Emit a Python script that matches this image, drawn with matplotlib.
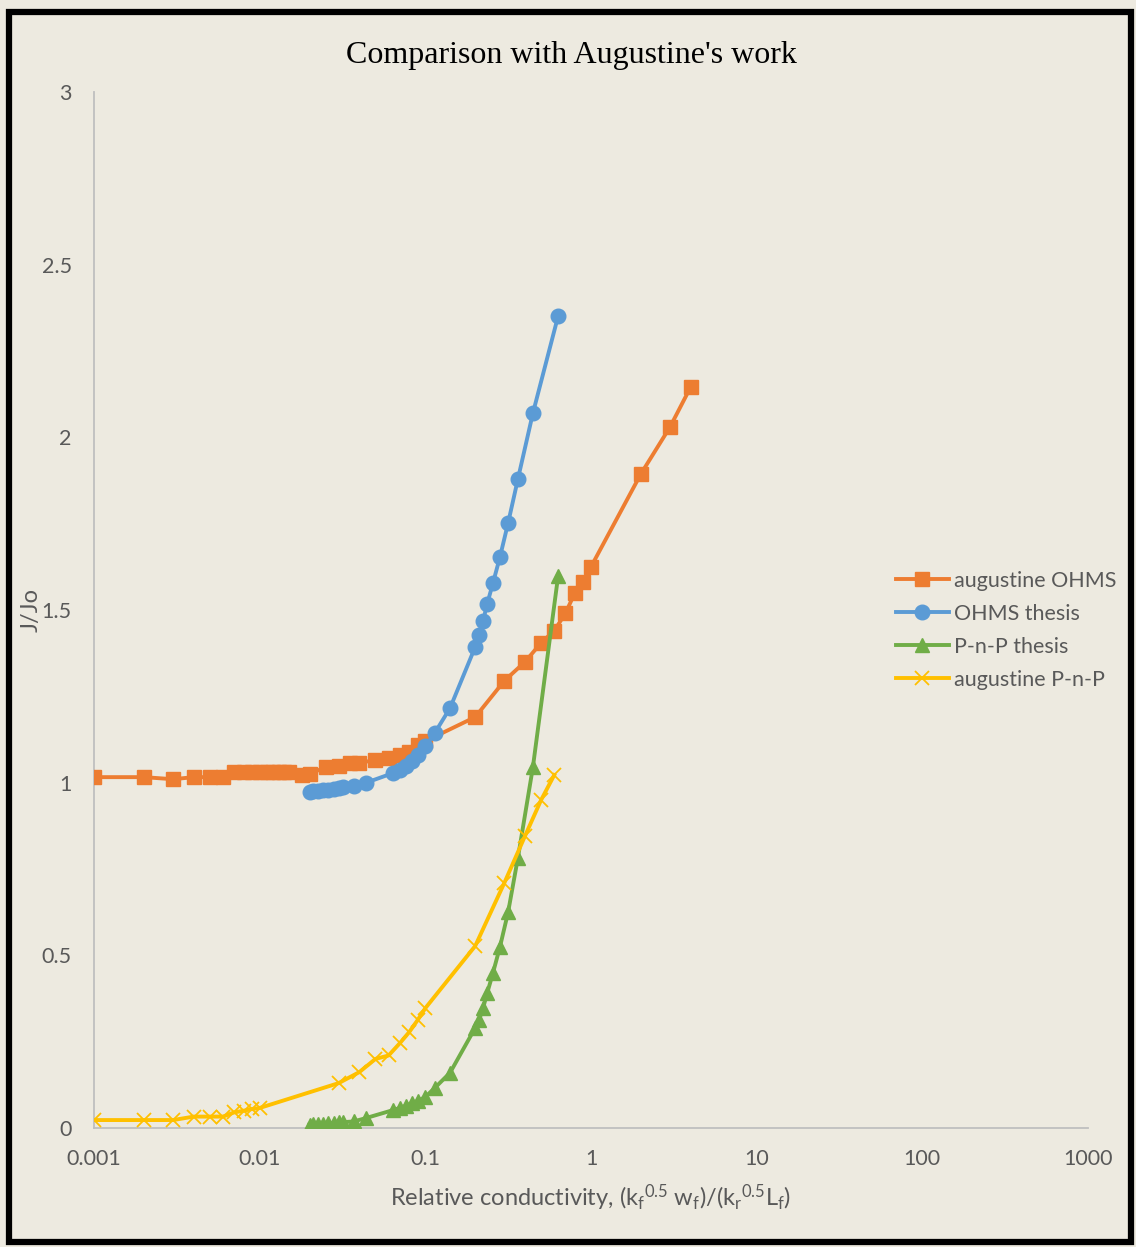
import matplotlib
matplotlib.use("Agg")
import matplotlib.pyplot as plt
from matplotlib.patches import Rectangle
from matplotlib.ticker import FixedLocator, FuncFormatter, NullLocator

# augustine OHMS
aug_ohms_x = [0.001, 0.002, 0.003, 0.004, 0.005, 0.006, 0.007, 0.008, 0.009, 0.01,
              0.011, 0.012, 0.013, 0.014, 0.015, 0.018, 0.02, 0.025, 0.03, 0.035,
              0.04, 0.05, 0.06, 0.07, 0.08, 0.09, 0.1, 0.2, 0.3, 0.4, 0.5, 0.6,
              0.7, 0.8, 0.9, 1, 2, 3, 4]
aug_ohms_y = [1.016, 1.016, 1.010, 1.016, 1.016, 1.016, 1.030, 1.030, 1.030, 1.030,
              1.030, 1.030, 1.030, 1.030, 1.030, 1.022, 1.025, 1.045, 1.048, 1.058,
              1.058, 1.065, 1.072, 1.080, 1.090, 1.110, 1.120, 1.190, 1.295, 1.350,
              1.405, 1.440, 1.490, 1.550, 1.580, 1.625, 1.894, 2.030, 2.146]

# thesis runs share the same conductivity values
thesis_x = [0.020, 0.021, 0.0225, 0.024, 0.026, 0.028, 0.030, 0.032, 0.037, 0.044,
            0.064, 0.070, 0.076, 0.083, 0.090, 0.100, 0.114, 0.141, 0.200, 0.211,
            0.223, 0.236, 0.256, 0.282, 0.316, 0.362, 0.446, 0.633]
ohms_thesis_y = [0.973, 0.976, 0.977, 0.979, 0.980, 0.982, 0.985, 0.987, 0.990, 1.000,
                 1.028, 1.037, 1.048, 1.063, 1.080, 1.106, 1.144, 1.216, 1.393, 1.428,
                 1.468, 1.517, 1.578, 1.653, 1.752, 1.879, 2.070, 2.351]
pnp_thesis_y = [0.010, 0.011, 0.012, 0.013, 0.014, 0.015, 0.016, 0.017, 0.019, 0.029,
                0.052, 0.058, 0.064, 0.072, 0.078, 0.090, 0.116, 0.160, 0.290, 0.313,
                0.347, 0.390, 0.449, 0.524, 0.625, 0.782, 1.045, 1.598]

# augustine P-n-P
aug_pnp_x = [0.001, 0.002, 0.003, 0.004, 0.005, 0.006, 0.007, 0.008, 0.009, 0.01,
             0.03, 0.04, 0.05, 0.06, 0.07, 0.08, 0.09, 0.1, 0.2, 0.3, 0.4, 0.5, 0.6]
aug_pnp_y = [0.023, 0.023, 0.023, 0.033, 0.033, 0.033, 0.045, 0.050, 0.055, 0.058,
             0.130, 0.162, 0.200, 0.210, 0.245, 0.278, 0.313, 0.347, 0.527, 0.710,
             0.846, 0.950, 1.022]

x_ticks = [0.001, 0.01, 0.1, 1, 10, 100, 1000]
x_tick_labels = ["0.001", "0.01", "0.1", "1", "10", "100", "1000"]
y_ticks = [0, 0.5, 1, 1.5, 2, 2.5, 3]

BG = "#EDEAE0"
TXT = "#595959"
AXIS = "#BFBFBF"

plt.rcParams["font.family"] = ["Lato", "DejaVu Sans"]
plt.rcParams["mathtext.default"] = "regular"

fig = plt.figure(figsize=(11.36, 12.47), dpi=100, facecolor=BG)
ax = fig.add_axes([94 / 1136, 1 - 1128 / 1247, (1088 - 94) / 1136, (1128 - 92) / 1247])
ax.set_facecolor(BG)

lw = 2.8
ax.plot(aug_ohms_x, aug_ohms_y, color="#ED7D31", lw=lw, marker="s", ms=10.5,
        mec="#ED7D31", label="augustine OHMS", zorder=3)
ax.plot(thesis_x, ohms_thesis_y, color="#5B9BD5", lw=lw, marker="o", ms=10.5,
        mec="#5B9BD5", label="OHMS thesis", zorder=4)
ax.plot(thesis_x, pnp_thesis_y, color="#70AD47", lw=lw, marker="^", ms=10,
        mec="#70AD47", label="P-n-P thesis", zorder=5)
ax.plot(aug_pnp_x, aug_pnp_y, color="#FFC000", lw=lw, marker="x", ms=10,
        mew=1.3, mec="#FFC000", label="augustine P-n-P", zorder=6)

ax.set_xscale("log")
ax.set_xlim(0.001, 1000)
ax.set_ylim(0, 3)
ax.xaxis.set_major_locator(FixedLocator(x_ticks))
ax.xaxis.set_minor_locator(NullLocator())
ax.set_xticklabels(x_tick_labels)
ax.yaxis.set_major_locator(FixedLocator(y_ticks))
ax.yaxis.set_major_formatter(FuncFormatter(lambda v, p: f"{v:g}"))

for side in ("top", "right"):
    ax.spines[side].set_visible(False)
for side in ("left", "bottom"):
    ax.spines[side].set_color(AXIS)
    ax.spines[side].set_linewidth(1.3)
ax.tick_params(axis="both", length=0, labelsize=15.5, colors=TXT)
ax.tick_params(axis="y", pad=16)
ax.tick_params(axis="x", pad=15)

ax.set_xlabel(r"Relative conductivity, (k$_f$$^{0.5}$ w$_f$)/(k$_r$$^{0.5}$L$_f$)",
              fontsize=17, color=TXT)
ax.xaxis.set_label_coords(0.5, -(1198 - 1128) / 1036, transform=ax.transAxes)
ax.xaxis.label.set_va("center")
ax.set_ylabel("J/Jo", fontsize=17, color=TXT)
ax.yaxis.set_label_coords(-(94 - 31) / 994, 0.5, transform=ax.transAxes)
ax.yaxis.label.set_va("center")

fig.text(571 / 1136, 1 - 55 / 1247, "Comparison with Augustine's work",
         family="Liberation Serif", fontsize=23, color="black",
         ha="center", va="center")

leg = ax.legend(loc="upper left", bbox_to_anchor=(896 / 1136, 1 - 571 / 1247),
                bbox_transform=fig.transFigure, frameon=False, fontsize=15.5,
                handlelength=2.45, handletextpad=0.23, labelspacing=0.6,
                borderpad=0, borderaxespad=0)
for t in leg.get_texts():
    t.set_color(TXT)

fig.patches.append(Rectangle((9 / 1136, 1 - 1242 / 1247), 1122 / 1136, 1230 / 1247,
                             transform=fig.transFigure, fill=False,
                             edgecolor="black", linewidth=4.5, zorder=10))

fig.savefig("out.png", dpi=100, facecolor=BG)
